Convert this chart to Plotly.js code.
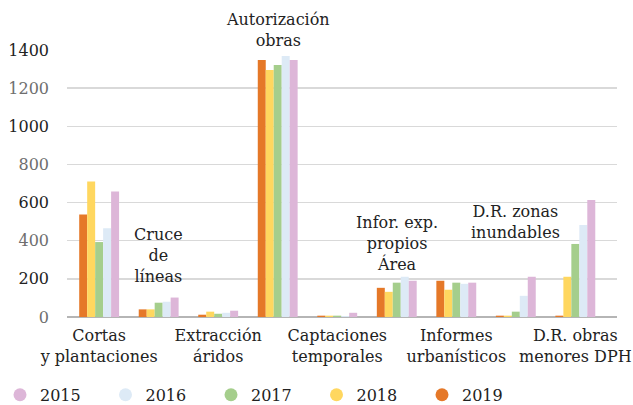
<!DOCTYPE html>
<html><head><meta charset="utf-8">
<script src="https://cdn.plot.ly/plotly-3.0.1.min.js"></script>
<style>html,body{margin:0;padding:0;background:#fff}#chart{width:633px;height:405px}</style>
</head><body><div id="chart"></div>
<script>
const categories = ['Cortas y plantaciones','Cruce de líneas','Extracción áridos','Autorización obras','Captaciones temporales','Infor. exp. propios Área','Informes urbanísticos','D.R. zonas inundables','D.R. obras menores DPH'];
const belowLabels = ['Cortas<br>y plantaciones','Extracción<br>áridos','Captaciones<br>temporales','Informes<br>urbanísticos','D.R. obras<br>menores DPH'];
const belowCats = [categories[0],categories[2],categories[4],categories[6],categories[8]];
const aboveLabels = ['Cruce<br>de<br>líneas','Autorización<br>obras','Infor. exp.<br>propios<br>Área','D.R. zonas<br>inundables'];
const aboveCats = [categories[1],categories[3],categories[5],categories[7]];
const aboveY = [320, 1505, 385, 498];

const years = ['2019','2018','2017','2016','2015'];
const v2019 = [538, 40, 12, 1348, 7, 153, 190, 7, 7];
const v2018 = [710, 40, 28, 1295, 7, 132, 143, 7, 211];
const v2017 = [393, 75, 17, 1322, 7, 180, 180, 28, 383];
const v2016 = [465, 80, 22, 1369, 5, 211, 174, 111, 482];
const v2015 = [658, 102, 33, 1348, 22, 190, 180, 211, 613];
const series = [v2019, v2018, v2017, v2016, v2015];
const colors = ['#E57828','#FFD75F','#A5CE8C','#DDEAF6','#DDB6D8'];

const yMax = 1400;
const yTicks = [0,200,400,600,800,1000,1200,1400];
const yTickText = yTicks.map((v,i)=> `<span style="color:${i%2===0?'#6e6e6e':'#222222'}">${v}</span>`);

const traces = [];
series.forEach((s,i)=>{
  traces.push({type:'bar', x:categories, y:s, name:years[i], marker:{color:colors[i]}, showlegend:false, hoverinfo:'y'});
});
for (let i = years.length-1; i>=0; i--) {
  traces.push({type:'scatter', mode:'markers', x:[null], y:[null], name:years[i],
    marker:{color:colors[i], size:13, symbol:'circle'}, showlegend:true});
}

const font = "'DejaVu Serif', 'Liberation Serif', serif";
const annotations = aboveCats.map((c,i)=>({
  x:c, y:aboveY[i]/yMax, xref:'x', yref:'paper', yanchor:'middle', xanchor:'center',
  text:aboveLabels[i], showarrow:false,
  font:{family:font, size:16, color:'#222'}, align:'center'
}));

const layout = {
  width:633, height:405,
  margin:{l:67, r:16, t:50, b:88},
  paper_bgcolor:'#fff', plot_bgcolor:'#fff',
  font:{family:font, size:16, color:'#222'},
  barmode:'group', bargap:0.33, bargroupgap:0,
  xaxis:{type:'category', range:[-0.54, 8.70], tickvals:belowCats, ticktext:belowLabels,
    showgrid:false, zeroline:false, showline:false, ticks:'', automargin:false, ticklabelstandoff:7,
    tickfont:{family:font, size:16, color:'#222'}},
  yaxis:{range:[0,yMax], tickvals:yTicks, ticktext:yTickText, showgrid:true, gridcolor:'#d9d9d9', gridwidth:1.5,
    zeroline:true, zerolinecolor:'#b5b5b5', zerolinewidth:2, showline:false, ticks:'', ticklabelstandoff:17, automargin:false,
    tickfont:{family:font, size:16, color:'#222'}},
  legend:{orientation:'h', x:-0.011, xref:'container', y:0.025, yref:'container', yanchor:'middle', xanchor:'left',
    entrywidth:60.5, entrywidthmode:'pixels',
    font:{family:font, size:16, color:'#222'}, traceorder:'normal'},
  annotations:annotations
};
Plotly.newPlot('chart', traces, layout, {displayModeBar:false, staticPlot:true});
</script></body></html>
